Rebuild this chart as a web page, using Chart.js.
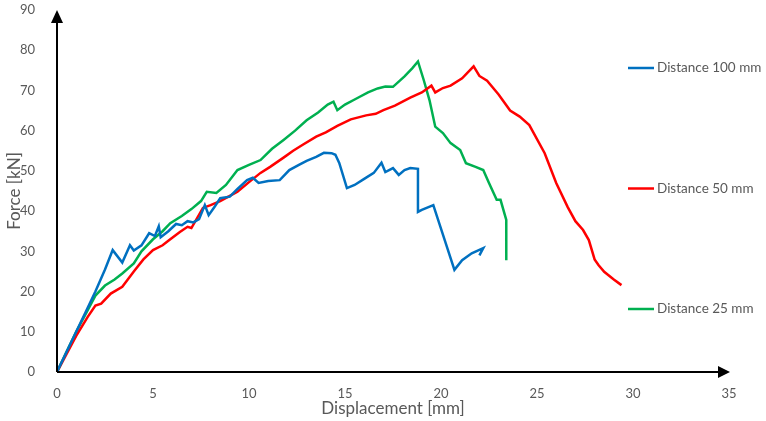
<!DOCTYPE html>
<html>
<head>
<meta charset="utf-8">
<script src="https://cdn.jsdelivr.net/npm/chart.js@4/dist/chart.umd.min.js"></script>
<style>
  html, body { margin: 0; padding: 0; background: #fff; }
  #wrap { width: 766px; height: 421px; }
</style>
</head>
<body>
<div id="wrap"><canvas id="c" width="766" height="421"></canvas></div>
<script>
// Distance 100 mm
const blueX = [0,0.5,1.0,1.5,2.0,2.5,2.9,3.4,3.8,4.0,4.4,4.8,5.1,5.3,5.4,5.8,6.2,6.5,6.8,7.1,7.4,7.7,7.9,8.2,8.5,9.0,9.4,9.9,10.2,10.5,11.0,11.6,12.1,12.6,13.0,13.5,13.9,14.3,14.5,14.7,15.1,15.5,16.0,16.5,16.9,17.1,17.5,17.8,18.1,18.4,18.8,18.8,19.0,19.6,20.7,21.1,21.6,22.2,22.0];
const blueY = [0,5,10,15,20,25.5,30.3,27.2,31.5,30.2,31.5,34.5,33.8,36.2,33.5,35,36.8,36.5,37.5,37.2,38,41.5,39,41,43.2,43.6,45.5,47.7,48.3,47,47.5,47.7,50.2,51.5,52.5,53.5,54.5,54.4,54,52,45.7,46.5,48,49.5,52,49.7,50.7,49,50.2,50.7,50.5,39.8,40.3,41.5,25.4,27.8,29.5,30.8,29];

// Distance 50 mm
const redX = [0,0.5,1.0,1.6,2.0,2.3,2.8,3.4,4.0,4.5,5.0,5.5,5.9,6.4,6.8,7.0,7.6,8.0,8.5,9.0,9.4,10.0,10.6,11.1,11.8,12.3,12.8,13.5,14.0,14.6,15.3,16.1,16.6,17.0,17.6,18.4,19.0,19.5,19.7,20.1,20.5,21.1,21.7,22.0,22.4,23.0,23.6,24.1,24.6,25.4,26.0,26.6,27.0,27.4,27.7,28.0,28.2,28.5,29.0,29.4];
const redY = [0,4.5,9,13.7,16.5,17,19.5,21.2,25,28,30.3,31.5,33,34.8,36.1,35.8,40.8,41.5,42.5,43.8,44.8,47.2,49.5,51,53.3,55,56.5,58.5,59.6,61.2,62.8,63.8,64.2,65.1,66.2,68.2,69.5,71.2,69.5,70.6,71.2,73,76,73.6,72.4,69,65,63.5,61.4,54.4,47,41,37.5,35.3,32.8,28,26.6,24.9,23,21.6];

// Distance 25 mm
const greenX = [0,0.5,1.0,1.6,2.0,2.5,3.0,3.4,4.0,4.4,5.0,5.5,5.9,6.5,7.0,7.5,7.8,8.3,8.8,9.4,10.0,10.6,11.2,11.8,12.4,13.0,13.6,14.1,14.4,14.6,15.0,15.6,16.2,16.7,17.1,17.5,18.1,18.5,18.8,19.1,19.4,19.7,20.1,20.5,21.0,21.3,21.8,22.2,22.5,22.9,23.1,23.4,23.4];
const greenY = [0,5,10,15.4,19,21.5,23,24.5,27,30,33,35,37,38.8,40.5,42.5,44.8,44.5,46.5,50.2,51.5,52.7,55.5,57.7,60,62.6,64.5,66.5,67.2,65.1,66.5,68,69.5,70.5,71,70.9,73.5,75.5,77.2,72.6,67.6,61,59.4,56.9,55.2,51.9,51,50.2,47,42.8,42.8,37.8,27.8];

const seriesNames = ['Distance 100 mm', 'Distance 50 mm', 'Distance 25 mm'];
const seriesColors = ['#0070C0', '#FF0000', '#00B050'];

const xMin = 0, xMax = 35, xStep = 5;
const yMin = 0, yMax = 90, yStep = 10;

const toPoints = (xs, ys) => xs.map((x, i) => ({ x: x, y: ys[i] }));

const textColor = '#595959';
const fontFamily = 'Lato, "Open Sans", sans-serif';

// axes with arrow heads + side legend
const decor = {
  id: 'decor',
  afterDraw(chart) {
    const ctx = chart.ctx, a = chart.chartArea;
    const x0 = chart.scales.x.getPixelForValue(0), y0 = chart.scales.y.getPixelForValue(0);
    ctx.save();
    ctx.strokeStyle = '#000'; ctx.fillStyle = '#000'; ctx.lineWidth = 2;
    ctx.beginPath();
    ctx.moveTo(x0, a.bottom); ctx.lineTo(x0, a.top + 8);
    ctx.moveTo(a.left, y0); ctx.lineTo(a.right - 6, y0);
    ctx.stroke();
    ctx.beginPath();
    ctx.moveTo(x0, a.top); ctx.lineTo(x0 - 6, a.top + 13); ctx.lineTo(x0 + 6, a.top + 13); ctx.closePath();
    ctx.fill();
    ctx.beginPath();
    ctx.moveTo(a.right + 1, y0); ctx.lineTo(a.right - 11, y0 - 6); ctx.lineTo(a.right - 11, y0 + 6); ctx.closePath();
    ctx.fill();

    ctx.font = '13.5px ' + fontFamily;
    ctx.textBaseline = 'middle';
    ctx.textAlign = 'left';
    seriesNames.forEach((name, i) => {
      const ly = a.top + 58 + i * 120.5;
      const lx = a.right - 101;
      ctx.strokeStyle = seriesColors[i]; ctx.lineWidth = 2.5;
      ctx.beginPath(); ctx.moveTo(lx, ly); ctx.lineTo(lx + 26, ly); ctx.stroke();
      ctx.fillStyle = textColor;
      ctx.fillText(name, lx + 29, ly);
    });
    ctx.restore();
  }
};

new Chart(document.getElementById('c'), {
  type: 'scatter',
  data: {
    datasets: [
      { label: seriesNames[0], data: toPoints(blueX, blueY), borderColor: seriesColors[0] },
      { label: seriesNames[1], data: toPoints(redX, redY), borderColor: seriesColors[1] },
      { label: seriesNames[2], data: toPoints(greenX, greenY), borderColor: seriesColors[2] }
    ].map(d => Object.assign(d, { showLine: true, pointRadius: 0, borderWidth: 2.5, tension: 0, backgroundColor: d.borderColor }))
  },
  options: {
    responsive: false,
    animation: false,
    layout: { padding: { top: 10, right: 37, left: 0, bottom: 0 } },
    plugins: { legend: { display: false }, tooltip: { enabled: false } },
    scales: {
      x: {
        type: 'linear', min: xMin, max: xMax,
        grid: { display: false }, border: { display: false },
        ticks: { stepSize: xStep, color: textColor, font: { family: fontFamily, size: 13 }, padding: 6 },
        title: { display: true, text: 'Displacement [mm]', color: textColor, font: { family: fontFamily, size: 17 }, padding: { top: 0, bottom: 2 } },
        afterFit: s => { s.height = 49; s.paddingLeft = 0; s.paddingRight = 0; }
      },
      y: {
        type: 'linear', min: yMin, max: yMax,
        grid: { display: false }, border: { display: false },
        ticks: { stepSize: yStep, color: textColor, font: { family: fontFamily, size: 13 }, padding: 14 },
        title: { display: true, text: 'Force [kN]', color: textColor, font: { family: fontFamily, size: 17 }, padding: { top: 4, bottom: 0 } },
        afterFit: s => { s.width = 57; s.paddingTop = 0; s.paddingBottom = 0; }
      }
    }
  },
  plugins: [decor]
});
</script>
</body>
</html>
